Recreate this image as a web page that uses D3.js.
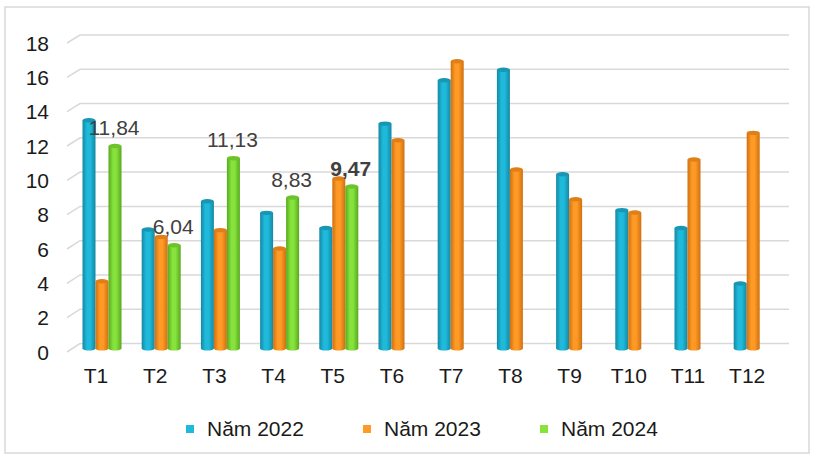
<!DOCTYPE html>
<html>
<head>
<meta charset="utf-8">
<script src="https://cdn.jsdelivr.net/npm/d3@7"></script>
<style>
  html, body { margin: 0; padding: 0; background: #fff; }
  svg { display: block; font-family: "Liberation Sans", Arial, sans-serif; }
</style>
</head>
<body>
<svg id="chart" width="817" height="459"></svg>
<script>
// data
var months = ["T1","T2","T3","T4","T5","T6","T7","T8","T9","T10","T11","T12"];
var series = ["Năm 2022","Năm 2023","Năm 2024"];
var v2022 = [13.35, 6.96, 8.61, 7.93, 7.05, 13.15, 15.69, 16.3, 10.19, 8.09, 7.05, 3.8];
var v2023 = [3.93, 6.53, 6.92, 5.85, 9.94, 12.18, 16.8, 10.47, 8.73, 7.95, 11.05, 12.61];
var v2024 = [11.84, 6.04, 11.13, 8.83, 9.47, null, null, null, null, null, null, null];
var yTicks = [0, 2, 4, 6, 8, 10, 12, 14, 16, 18];
var boldLabel = "T5"; // the latest month label is bold

var colors = {
  "Năm 2022": {mid: "#1fbadb", edge: "#1488a3", top: "#1797b3"},
  "Năm 2023": {mid: "#ff9a26", edge: "#cf7010", top: "#e07f18"},
  "Năm 2024": {mid: "#86e23c", edge: "#58a81e", top: "#6cc42a"}
};

var svg = d3.select("#chart");

// chart frame
svg.append("rect")
  .attr("x", 5).attr("y", 7).attr("width", 804).attr("height", 446)
  .attr("fill", "#fff").attr("stroke", "#d9d9d9").attr("stroke-width", 1.5);

// gradients for the cylinders
var defs = svg.append("defs");
series.forEach(function(s, i) {
  var g = defs.append("linearGradient").attr("id", "grad" + i)
    .attr("x1", "0%").attr("x2", "100%").attr("y1", "0%").attr("y2", "0%");
  g.append("stop").attr("offset", "0%").attr("stop-color", colors[s].edge);
  g.append("stop").attr("offset", "35%").attr("stop-color", colors[s].mid);
  g.append("stop").attr("offset", "60%").attr("stop-color", colors[s].mid);
  g.append("stop").attr("offset", "100%").attr("stop-color", colors[s].edge);
});

// scales: front of wall (labels), back of wall (gridlines), bars
var yFront = d3.scaleLinear().domain([0, 18]).range([352, 43]);
var yBack = d3.scaleLinear().domain([0, 18]).range([343.5, 35]);
var yBar = d3.scaleLinear().domain([0, 18]).range([348.5, 348.5 - 18 * 17.1]);
var x0 = d3.scaleBand().domain(months).range([72.4, 782.8]);
var groupW = 39;
var x1 = d3.scaleBand().domain(series).range([0, groupW]);

// gridlines with a little slanted floor edge on the left
var grid = svg.append("g");
yTicks.forEach(function(t) {
  grid.append("path")
    .attr("d", "M67," + yFront(t) + "L80," + yBack(t) + "L789," + yBack(t))
    .attr("fill", "none").attr("stroke", "#d9d9d9").attr("stroke-width", 1.5);
});

// y tick labels
svg.append("g").selectAll("text").data(yTicks).enter().append("text")
  .attr("x", 49)
  .attr("y", function(d) { return yFront(d) + 7.5; })
  .attr("text-anchor", "end")
  .attr("font-size", "21px")
  .attr("fill", "#1a1a1a")
  .text(function(d) { return d; });

// bars
var table = months.map(function(m, i) {
  return {month: m, vals: [v2022[i], v2023[i], v2024[i]]};
});

var groups = svg.append("g").selectAll("g").data(table).enter().append("g")
  .attr("transform", function(d) {
    return "translate(" + (x0(d.month) + (x0.bandwidth() - groupW) / 2) + ",0)";
  });

groups.each(function(d) {
  var g = d3.select(this);
  d.vals.forEach(function(v, i) {
    if (v == null) return;
    var s = series[i];
    var bx = x1(s), bw = x1.bandwidth();
    var top = yBar(v), base = yBar(0);
    // bottom cap
    g.append("ellipse")
      .attr("cx", bx + bw / 2).attr("cy", base).attr("rx", bw / 2).attr("ry", 2)
      .attr("fill", "url(#grad" + i + ")");
    // body
    g.append("rect")
      .attr("x", bx).attr("y", top).attr("width", bw).attr("height", base - top)
      .attr("fill", "url(#grad" + i + ")");
    // top cap
    g.append("ellipse")
      .attr("cx", bx + bw / 2).attr("cy", top).attr("rx", bw / 2).attr("ry", 2.2)
      .attr("fill", colors[s].top);
  });
});

// x labels
svg.append("g").selectAll("text").data(months).enter().append("text")
  .attr("x", function(d) { return x0(d) + x0.bandwidth() / 2 - 6; })
  .attr("y", 383)
  .attr("text-anchor", "middle")
  .attr("font-size", "21px")
  .attr("fill", "#1a1a1a")
  .text(function(d) { return d; });

// data labels for 2024
var fmt = function(v) { return v.toFixed(2).replace(".", ","); };
svg.append("g").selectAll("text")
  .data(months.map(function(m, i) { return {month: m, v: v2024[i]}; })
    .filter(function(d) { return d.v != null; }))
  .enter().append("text")
  .attr("x", function(d) {
    return x0(d.month) + (x0.bandwidth() - groupW) / 2 + x1("Năm 2024") + x1.bandwidth() / 2 - 1;
  })
  .attr("y", function(d) { return yBar(d.v) - 11; })
  .attr("text-anchor", "middle")
  .attr("font-size", "21px")
  .attr("font-weight", function(d) { return d.month == boldLabel ? "bold" : "normal"; })
  .attr("fill", "#404040")
  .text(function(d) { return fmt(d.v); });

// legend
var legendX = [186, 363, 540];
var legend = svg.append("g").selectAll("g").data(series).enter().append("g")
  .attr("transform", function(d, i) { return "translate(" + legendX[i] + ",0)"; });
legend.append("rect")
  .attr("x", 0).attr("y", 425).attr("width", 8).attr("height", 8)
  .attr("fill", function(d) { return colors[d].mid; });
legend.append("text")
  .attr("x", 21).attr("y", 436)
  .attr("font-size", "21px")
  .attr("fill", "#1a1a1a")
  .text(function(d) { return d; });
</script>
</body>
</html>
